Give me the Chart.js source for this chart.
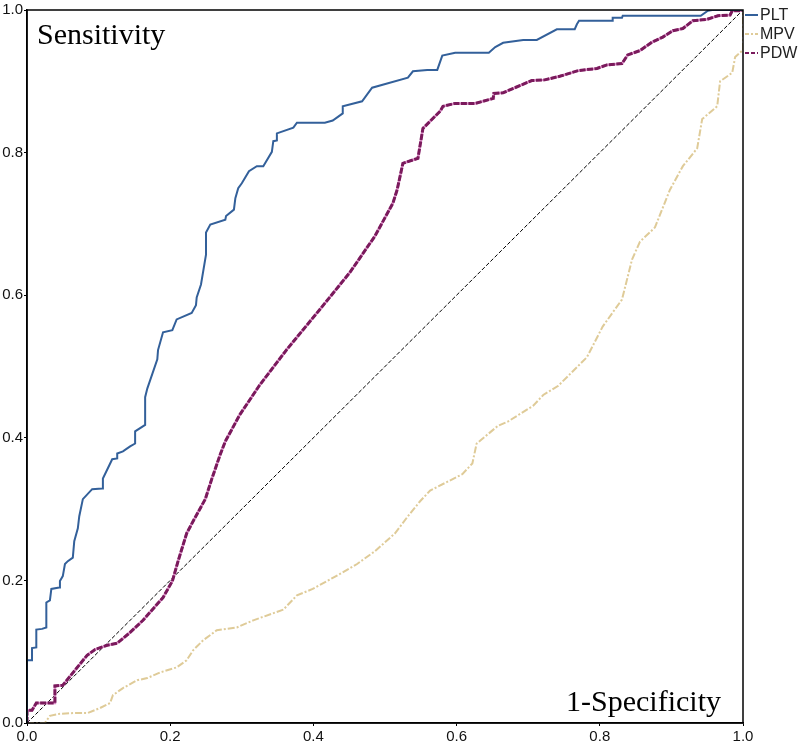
<!DOCTYPE html>
<html>
<head>
<meta charset="utf-8">
<script src="https://cdn.jsdelivr.net/npm/chart.js@4.4.1/dist/chart.umd.min.js"></script>
<style>
  html, body { margin: 0; padding: 0; background: #fff; }
  canvas { display: block; }
</style>
</head>
<body>
<canvas id="rocChart" width="800" height="746"></canvas>
<script>
"use strict";

// подписи делений
const tickValues = [0, 0.2, 0.4, 0.6, 0.8, 1.0];

// PLT
const pltFpr = [
  0, 0, 0.007, 0.007, 0.013, 0.013, 0.021, 0.027, 0.027, 0.032,
  0.034, 0.045, 0.046, 0.050, 0.053, 0.057, 0.064, 0.066, 0.071, 0.073,
  0.078, 0.091, 0.105, 0.106, 0.119, 0.126, 0.126, 0.134, 0.144, 0.151,
  0.151, 0.165, 0.165, 0.168, 0.182, 0.183, 0.190, 0.203, 0.209, 0.230,
  0.236, 0.237, 0.243, 0.250, 0.250, 0.256, 0.277, 0.278, 0.289, 0.291,
  0.295, 0.300, 0.310, 0.321, 0.330, 0.342, 0.344, 0.349, 0.349, 0.372,
  0.377, 0.416, 0.427, 0.441, 0.441, 0.468, 0.482, 0.532, 0.539, 0.559,
  0.573, 0.580, 0.598, 0.645, 0.654, 0.665, 0.693, 0.712, 0.740, 0.765,
  0.768, 0.771, 0.818, 0.818, 0.831, 0.832, 0.941, 0.951, 0.957, 1.0
];
const pltTpr = [
  0, 0.088, 0.088, 0.105, 0.106, 0.131, 0.132, 0.134, 0.169, 0.172,
  0.188, 0.190, 0.199, 0.206, 0.223, 0.227, 0.232, 0.255, 0.273, 0.290,
  0.314, 0.328, 0.329, 0.343, 0.370, 0.371, 0.378, 0.381, 0.388, 0.392,
  0.409, 0.418, 0.457, 0.469, 0.510, 0.523, 0.548, 0.551, 0.566, 0.575,
  0.586, 0.597, 0.615, 0.657, 0.688, 0.699, 0.706, 0.711, 0.720, 0.736,
  0.750, 0.757, 0.774, 0.781, 0.781, 0.801, 0.816, 0.817, 0.827, 0.835,
  0.842, 0.842, 0.845, 0.855, 0.865, 0.872, 0.891, 0.905, 0.914, 0.916,
  0.916, 0.936, 0.940, 0.940, 0.948, 0.954, 0.958, 0.958, 0.973, 0.973,
  0.980, 0.985, 0.985, 0.989, 0.989, 0.992, 0.992, 0.999, 1.0, 1.0
];

// MPV
const mpvFpr = [
  0, 0.025, 0.032, 0.046, 0.067, 0.085, 0.102, 0.116, 0.120, 0.134,
  0.154, 0.168, 0.186, 0.209, 0.223, 0.232, 0.246, 0.265, 0.293, 0.316,
  0.358, 0.377, 0.399, 0.437, 0.461, 0.486, 0.514, 0.532, 0.549, 0.563,
  0.608, 0.622, 0.628, 0.658, 0.672, 0.707, 0.721, 0.742, 0.782, 0.804,
  0.831, 0.845, 0.856, 0.877, 0.898, 0.916, 0.936, 0.943, 0.964, 0.968,
  0.985, 0.989, 0.999, 1.0, 1.0
];
const mpvTpr = [
  0, 0, 0.010, 0.013, 0.014, 0.014, 0.021, 0.028, 0.039, 0.049,
  0.060, 0.063, 0.071, 0.078, 0.088, 0.102, 0.116, 0.130, 0.134, 0.144,
  0.159, 0.179, 0.188, 0.209, 0.223, 0.241, 0.266, 0.290, 0.311, 0.326,
  0.349, 0.364, 0.392, 0.417, 0.423, 0.445, 0.460, 0.473, 0.513, 0.556,
  0.594, 0.650, 0.675, 0.695, 0.748, 0.781, 0.806, 0.847, 0.865, 0.900,
  0.912, 0.934, 0.943, 0.943, 1.0
];

// PDW
const pdwFpr = [
  0, 0, 0.007, 0.013, 0.039, 0.039, 0.050, 0.067, 0.084, 0.095,
  0.112, 0.126, 0.144, 0.162, 0.190, 0.203, 0.211, 0.223, 0.232, 0.249,
  0.258, 0.270, 0.277, 0.297, 0.325, 0.363, 0.409, 0.451, 0.486, 0.511,
  0.517, 0.525, 0.546, 0.553, 0.577, 0.581, 0.598, 0.626, 0.651, 0.652,
  0.665, 0.705, 0.723, 0.744, 0.770, 0.796, 0.810, 0.831, 0.839, 0.856,
  0.873, 0.888, 0.902, 0.916, 0.930, 0.950, 0.965, 0.982, 0.985, 0.996,
  1.0
];
const pdwTpr = [
  0, 0.018, 0.018, 0.028, 0.028, 0.052, 0.053, 0.074, 0.095, 0.103,
  0.109, 0.112, 0.127, 0.144, 0.176, 0.199, 0.227, 0.266, 0.283, 0.314,
  0.342, 0.377, 0.395, 0.432, 0.474, 0.524, 0.580, 0.632, 0.683, 0.729,
  0.748, 0.785, 0.792, 0.834, 0.858, 0.865, 0.869, 0.869, 0.876, 0.883,
  0.884, 0.901, 0.902, 0.907, 0.915, 0.918, 0.923, 0.925, 0.937, 0.943,
  0.955, 0.962, 0.971, 0.974, 0.985, 0.987, 0.992, 0.993, 0.999, 0.999,
  1.0
];

// диагональ
const refFpr = [0, 1];
const refTpr = [0, 1];

function toPoints(xs, ys) {
  return xs.map((x, i) => ({ x: x, y: ys[i] }));
}

// рамка, подписи осей и легенда
const decorPlugin = {
  id: "decor",
  afterDraw(chart) {
    const ctx = chart.ctx;
    const area = chart.chartArea;
    ctx.save();
    ctx.strokeStyle = "#000";
    ctx.lineWidth = 1.5;
    ctx.strokeRect(area.left, area.top, area.right - area.left, area.bottom - area.top);

    ctx.fillStyle = "#000";
    ctx.font = "30px 'Liberation Serif'";
    ctx.textBaseline = "alphabetic";
    ctx.textAlign = "left";
    ctx.fillText("Sensitivity", 37, 44);
    ctx.textAlign = "right";
    ctx.fillText("1-Specificity", 721, 711);

    // легенда
    ctx.font = "16px 'Liberation Sans'";
    ctx.textAlign = "left";
    ctx.textBaseline = "middle";
    chart.data.datasets.forEach((ds) => {
      if (!ds.legendY) return;
      ctx.beginPath();
      ctx.setLineDash(ds.legendDash || []);
      ctx.strokeStyle = ds.borderColor;
      ctx.lineWidth = 2;
      ctx.moveTo(745, ds.legendY);
      ctx.lineTo(758, ds.legendY);
      ctx.stroke();
      ctx.setLineDash([]);
      ctx.fillStyle = "#222";
      ctx.fillText(ds.label, 760, ds.legendY + 1);
    });
    ctx.restore();
  }
};

const lineBase = {
  showLine: true,
  pointRadius: 0,
  tension: 0,
  fill: false
};

const ctx = document.getElementById("rocChart").getContext("2d");
new Chart(ctx, {
  type: "scatter",
  data: {
    datasets: [
      Object.assign({}, lineBase, {
        label: "PLT",
        data: toPoints(pltFpr, pltTpr),
        borderColor: "#33609a",
        borderWidth: 2,
        legendY: 15,
        order: 1
      }),
      Object.assign({}, lineBase, {
        label: "MPV",
        data: toPoints(mpvFpr, mpvTpr),
        borderColor: "#dfcb98",
        borderWidth: 2,
        borderDash: [7, 2, 2, 2],
        legendY: 34,
        legendDash: [4, 2, 2, 2],
        order: 4
      }),
      Object.assign({}, lineBase, {
        label: "PDW",
        data: toPoints(pdwFpr, pdwTpr),
        borderColor: "#7a1a5c",
        borderWidth: 3,
        borderDash: [6, 1.5],
        legendY: 53,
        legendDash: [4, 2],
        order: 2
      }),
      Object.assign({}, lineBase, {
        label: "pdw-under",
        data: toPoints(pdwFpr, pdwTpr),
        borderColor: "#d98cc4",
        borderWidth: 2.5,
        order: 3
      }),
      Object.assign({}, lineBase, {
        label: "ref",
        data: toPoints(refFpr, refTpr),
        borderColor: "#000",
        borderWidth: 1,
        borderDash: [4, 2],
        order: 5
      })
    ]
  },
  options: {
    responsive: false,
    animation: false,
    layout: {
      autoPadding: false,
      padding: { top: 6, right: 57, left: 0, bottom: 0 }
    },
    plugins: {
      legend: { display: false },
      tooltip: { enabled: false }
    },
    scales: {
      x: {
        type: "linear",
        min: 0,
        max: 1,
        afterFit: (scale) => { scale.height = 23; },
        afterBuildTicks: (scale) => {
          scale.ticks = tickValues.map((v) => ({ value: v }));
        },
        grid: {
          drawOnChartArea: false,
          drawTicks: true,
          tickLength: 3,
          color: "#000"
        },
        border: { display: true, color: "#000", width: 1.5 },
        ticks: {
          padding: 2,
          color: "#111",
          font: { family: "'Liberation Sans'", size: 15 },
          maxRotation: 0,
          callback: (v) => Number(v).toFixed(1)
        }
      },
      y: {
        type: "linear",
        min: 0,
        max: 1,
        afterFit: (scale) => { scale.width = 27; },
        afterBuildTicks: (scale) => {
          scale.ticks = tickValues.map((v) => ({ value: v }));
        },
        grid: {
          drawOnChartArea: false,
          drawTicks: true,
          tickLength: 3,
          color: "#000"
        },
        border: { display: true, color: "#000", width: 1.5 },
        ticks: {
          padding: 1,
          color: "#111",
          font: { family: "'Liberation Sans'", size: 15 },
          callback: (v) => Number(v).toFixed(1)
        }
      }
    }
  },
  plugins: [decorPlugin]
});
</script>
</body>
</html>
